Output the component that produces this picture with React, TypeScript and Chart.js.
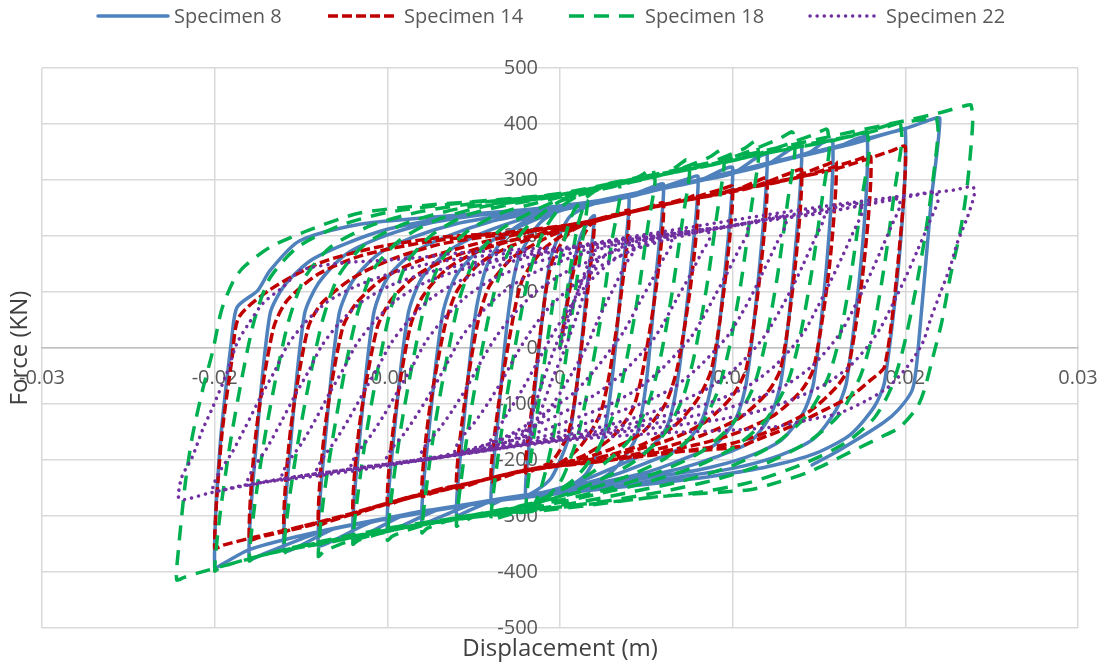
import { useEffect, useRef } from "react";
import { Chart, registerables } from "chart.js";

Chart.register(...registerables);

const xTickValues = [-0.03, -0.02, -0.01, 0, 0.01, 0.02, 0.03];
const yTickValues = [-500, -400, -300, -200, -100, 0, 100, 200, 300, 400, 500];
const seriesNames = ["Specimen 8", "Specimen 14", "Specimen 18", "Specimen 22"];
const xTitle = "Displacement (m)";
const yTitle = "Force (KN)";

// [displacement (m), force (kN)]
const specimen8: number[][] = [
  [0,0],[0.0006,120],[0.0012,200],[0.0018,232],[0.002,236],
  [0.0016,118],[0.001,-60],[0.0005,-160],[-0.0005,-232],[-0.0014,-255],[-0.002,-262],
  [-0.0016,-120],[-0.001,60],[-0.0005,165],[0.0005,232],[0.0015,252],[0.0025,262],[0.0034,266],[0.004,268],
  [0.0036,130],[0.003,-60],[0.0025,-160],[0.0015,-225],[0,-255],[-0.002,-264],[-0.0034,-272],[-0.004,-278],
  [-0.0036,-130],[-0.003,60],[-0.0024,160],[-0.0012,222],[0,246],[0.002,260],[0.004,272],[0.0054,288],[0.006,292],
  [0.0056,140],[0.005,-60],[0.0044,-160],[0.0032,-215],[0.002,-240],[0,-256],[-0.002,-265],[-0.004,-274],[-0.0054,-292],[-0.006,-298],
  [-0.0056,-140],[-0.0049,60],[-0.0042,150],[-0.003,205],[-0.0015,235],[0,250],[0.002,262],[0.004,274],[0.006,288],[0.0074,302],[0.008,306],
  [0.0076,150],[0.0068,-60],[0.0062,-140],[0.005,-185],[0.003,-215],[0.001,-240],[-0.001,-258],[-0.003,-268],[-0.005,-278],[-0.0072,-305],[-0.008,-312],
  [-0.0076,-150],[-0.0068,60],[-0.006,130],[-0.0045,180],[-0.0025,215],[0,245],[0.002,258],[0.004,270],[0.006,285],[0.008,298],[0.0094,318],[0.01,322],
  [0.0096,150],[0.0088,-60],[0.0082,-130],[0.007,-178],[0.005,-205],[0.003,-228],[0.001,-245],[-0.001,-258],[-0.003,-267],[-0.005,-278],[-0.007,-288],[-0.0092,-318],[-0.01,-325],
  [-0.0096,-150],[-0.0088,60],[-0.008,125],[-0.0065,172],[-0.0045,205],[-0.002,232],[0,246],[0.002,258],[0.004,270],[0.006,285],[0.008,298],[0.01,312],[0.0114,340],[0.012,345],
  [0.0116,160],[0.0108,-60],[0.0102,-125],[0.009,-172],[0.007,-200],[0.005,-222],[0.003,-236],[0.001,-248],[-0.001,-258],[-0.003,-267],[-0.005,-277],[-0.007,-287],[-0.009,-298],[-0.0112,-332],[-0.012,-340],
  [-0.0116,-160],[-0.0108,60],[-0.01,125],[-0.0085,170],[-0.0065,200],[-0.004,226],[-0.002,238],[0,248],[0.002,258],[0.004,270],[0.006,285],[0.008,298],[0.01,312],[0.012,328],[0.0134,356],[0.014,360],
  [0.0136,165],[0.0128,-60],[0.0122,-120],[0.011,-168],[0.009,-195],[0.007,-215],[0.005,-228],[0.003,-240],[0.001,-250],[-0.001,-260],[-0.003,-269],[-0.005,-279],[-0.007,-289],[-0.009,-300],[-0.011,-312],[-0.0132,-345],[-0.014,-352],
  [-0.0136,-165],[-0.0128,60],[-0.012,120],[-0.0105,168],[-0.0085,198],[-0.006,222],[-0.003,238],[0,250],[0.003,266],[0.006,286],[0.009,305],[0.012,328],[0.0145,350],[0.0152,366],[0.0158,370],
  [0.0155,170],[0.0147,-60],[0.0141,-115],[0.0128,-165],[0.0108,-195],[0.008,-218],[0.005,-232],[0.002,-245],[-0.001,-258],[-0.004,-272],[-0.007,-288],[-0.01,-305],[-0.013,-322],[-0.0152,-355],[-0.016,-362],
  [-0.0156,-170],[-0.0148,60],[-0.014,115],[-0.0125,165],[-0.0105,196],[-0.008,220],[-0.005,236],[-0.002,246],[0.001,256],[0.004,272],[0.007,292],[0.01,312],[0.013,336],[0.016,358],[0.0172,374],[0.0178,376],
  [0.0175,175],[0.0166,-60],[0.016,-110],[0.0147,-162],[0.0127,-192],[0.01,-215],[0.007,-230],[0.004,-243],[0.001,-255],[-0.002,-265],[-0.005,-278],[-0.008,-292],[-0.011,-310],[-0.014,-330],[-0.0172,-368],[-0.018,-376],
  [-0.0176,-175],[-0.0168,60],[-0.016,110],[-0.0145,155],[-0.0125,185],[-0.01,212],[-0.007,230],[-0.004,240],[-0.001,250],[0.002,262],[0.005,280],[0.008,298],[0.011,320],[0.014,343],[0.017,365],[0.0193,386],[0.02,390],
  [0.0197,180],[0.0188,-60],[0.0182,-105],[0.0168,-155],[0.0148,-188],[0.012,-212],[0.009,-228],[0.006,-240],[0.003,-250],[0,-260],[-0.003,-270],[-0.006,-283],[-0.009,-298],[-0.012,-315],[-0.015,-335],[-0.018,-360],[-0.0195,-385],[-0.02,-392],
  [-0.0197,-180],[-0.019,20],[-0.0187,73],[-0.0175,103],[-0.0168,138],[-0.0151,191],[-0.0116,221],[-0.008,232],[-0.004,242],[0,253],[0.004,272],[0.008,300],[0.012,330],[0.016,360],[0.02,392],[0.0215,408],[0.022,410],
  [0.0215,264],[0.0207,-16],[0.0204,-75],[0.0196,-110],[0.0187,-134],[0.0162,-182],[0.0146,-209],
];

const specimen14: number[][] = [
  [0,0],[0.0006,110],[0.0012,190],[0.0017,218],[0.002,225],
  [0.0016,100],[0.001,-60],[0.0005,-150],[-0.0004,-200],[-0.0014,-216],[-0.002,-222],
  [-0.0016,-100],[-0.001,60],[-0.0005,150],[0.0005,205],[0.002,228],[0.0034,240],[0.004,245],
  [0.0036,110],[0.0029,-40],[0.0023,-120],[0.0012,-175],[0,-205],[-0.002,-218],[-0.0034,-232],[-0.004,-238],
  [-0.0036,-110],[-0.0028,40],[-0.0022,120],[-0.001,175],[0.0005,208],[0.002,228],[0.004,242],[0.0054,254],[0.006,258],
  [0.0056,115],[0.0048,-40],[0.0042,-110],[0.003,-160],[0.0015,-190],[0,-208],[-0.002,-218],[-0.004,-232],[-0.0054,-246],[-0.006,-250],
  [-0.0056,-115],[-0.0048,40],[-0.0041,110],[-0.0028,160],[-0.0012,190],[0,208],[0.002,226],[0.004,242],[0.006,256],[0.0074,268],[0.008,272],
  [0.0076,120],[0.0068,-35],[0.0061,-100],[0.0048,-150],[0.003,-180],[0.001,-200],[-0.001,-214],[-0.003,-225],[-0.005,-240],[-0.0074,-259],[-0.008,-264],
  [-0.0076,-120],[-0.0067,35],[-0.006,100],[-0.0047,150],[-0.003,180],[-0.001,202],[0.001,218],[0.003,234],[0.005,250],[0.007,262],[0.0094,284],[0.01,288],
  [0.0096,130],[0.0088,-35],[0.008,-90],[0.0066,-140],[0.0048,-172],[0.003,-190],[0.001,-204],[-0.001,-214],[-0.003,-225],[-0.005,-240],[-0.007,-252],[-0.0094,-274],[-0.01,-279],
  [-0.0096,-130],[-0.0087,35],[-0.008,90],[-0.0066,140],[-0.0048,172],[-0.003,190],[-0.001,205],[0.001,220],[0.004,242],[0.007,262],[0.01,280],[0.0114,298],[0.012,303],
  [0.0116,135],[0.0108,-35],[0.01,-85],[0.0085,-130],[0.0065,-162],[0.004,-185],[0.001,-204],[-0.002,-218],[-0.005,-240],[-0.008,-260],[-0.0114,-292],[-0.012,-297],
  [-0.0116,-135],[-0.0106,35],[-0.0098,85],[-0.0083,130],[-0.0063,162],[-0.004,184],[-0.001,204],[0.002,226],[0.005,250],[0.008,268],[0.011,286],[0.0134,313],[0.014,318],
  [0.0136,140],[0.0128,-35],[0.012,-80],[0.0104,-125],[0.0083,-155],[0.006,-178],[0.003,-198],[0,-210],[-0.003,-225],[-0.006,-248],[-0.009,-268],[-0.0134,-310],[-0.014,-315],
  [-0.0136,-140],[-0.0126,35],[-0.0118,80],[-0.0102,125],[-0.008,158],[-0.005,185],[-0.002,206],[0.001,222],[0.004,243],[0.007,262],[0.01,281],[0.013,299],[0.0154,327],[0.016,332],
  [0.0156,145],[0.0147,-35],[0.014,-75],[0.0124,-120],[0.0102,-152],[0.008,-172],[0.005,-190],[0.002,-204],[-0.001,-214],[-0.004,-232],[-0.007,-255],[-0.01,-277],[-0.013,-304],[-0.0154,-322],[-0.016,-327],
  [-0.0156,-145],[-0.0146,35],[-0.0138,80],[-0.012,125],[-0.0098,158],[-0.007,185],[-0.004,200],[-0.001,212],[0.002,228],[0.005,250],[0.008,268],[0.011,287],[0.014,306],[0.0172,336],[0.018,341],
  [0.0176,150],[0.0167,-35],[0.016,-70],[0.0145,-112],[0.0124,-145],[0.01,-170],[0.007,-185],[0.004,-196],[0.001,-206],[-0.002,-218],[-0.005,-240],[-0.008,-262],[-0.011,-286],[-0.014,-313],[-0.0174,-338],[-0.018,-342],
  [-0.0176,-150],[-0.0166,35],[-0.0158,85],[-0.014,132],[-0.0115,165],[-0.008,188],[-0.005,200],[-0.002,210],[0.001,222],[0.004,242],[0.007,262],[0.01,282],[0.013,300],[0.016,320],[0.0192,352],[0.02,359],
  [0.0196,160],[0.0188,-33],[0.018,-57],[0.0168,-87],[0.0153,-111],[0.0133,-141],[0.0114,-164],[0.0104,-176],[0.008,-183],[0.006,-187],[0.003,-200],[0,-210],[-0.003,-225],[-0.006,-248],[-0.009,-270],[-0.012,-295],[-0.015,-319],[-0.018,-340],[-0.0195,-352],[-0.02,-357],
  [-0.0196,-160],[-0.019,-20],[-0.0186,55],[-0.0168,104],[-0.0139,152],[-0.0106,180],[-0.0068,198],[-0.004,204],
];

const specimen18: number[][] = [
  [0,0],[0.0005,120],[0.001,215],[0.0014,255],[0.0016,262],
  [0.0012,170],[0.0006,40],[0,-90],[-0.0006,-190],[-0.0012,-260],[-0.0017,-290],[-0.002,-298],
  [-0.0017,-200],[-0.0012,-90],[-0.0006,40],[0,160],[0.0008,245],[0.002,280],[0.003,290],[0.0034,292],
  [0.0035,275],[0.003,190],[0.0024,60],[0.0017,-60],[0.001,-160],[0,-240],[-0.0015,-285],[-0.003,-298],[-0.0037,-305],[-0.004,-308],
  [-0.0037,-220],[-0.0032,-110],[-0.0025,20],[-0.0018,130],[-0.001,205],[0,250],[0.0015,280],[0.003,295],[0.0045,305],[0.0053,320],[0.0054,318],
  [0.0055,295],[0.0051,220],[0.0045,90],[0.0038,-30],[0.0032,-110],[0.0022,-180],[0.0008,-235],[-0.001,-270],[-0.003,-292],[-0.005,-302],[-0.0057,-312],[-0.006,-318],
  [-0.0057,-230],[-0.0052,-120],[-0.0045,0],[-0.0038,100],[-0.003,170],[-0.0018,220],[0,262],[0.002,280],[0.004,295],[0.006,310],[0.0068,325],[0.0073,336],[0.0074,335],
  [0.0075,310],[0.0071,230],[0.0065,100],[0.0058,-20],[0.0051,-100],[0.004,-165],[0.0022,-215],[0,-255],[-0.002,-280],[-0.004,-294],[-0.006,-304],[-0.0077,-322],[-0.008,-330],
  [-0.0077,-240],[-0.0072,-130],[-0.0065,-10],[-0.0058,90],[-0.0049,160],[-0.0035,210],[-0.0015,245],[0,265],[0.003,290],[0.006,310],[0.0086,340],[0.0093,354],[0.0094,352],
  [0.0095,325],[0.0091,240],[0.0085,110],[0.0078,-10],[0.0071,-90],[0.006,-155],[0.0042,-205],[0.002,-240],[0,-265],[-0.003,-288],[-0.006,-303],[-0.0085,-322],[-0.0097,-336],[-0.01,-343],
  [-0.0097,-250],[-0.0092,-140],[-0.0085,-20],[-0.0078,80],[-0.0069,155],[-0.0055,205],[-0.0035,240],[-0.001,262],[0.002,284],[0.005,304],[0.008,324],[0.0106,355],[0.0113,370],[0.0114,368],
  [0.0115,340],[0.0111,255],[0.0105,120],[0.0098,0],[0.0091,-80],[0.008,-145],[0.0062,-195],[0.004,-228],[0.001,-258],[-0.002,-280],[-0.005,-298],[-0.008,-314],[-0.0105,-332],[-0.0117,-344],[-0.012,-350],
  [-0.0117,-260],[-0.0112,-150],[-0.0105,-30],[-0.0098,70],[-0.0089,150],[-0.0075,200],[-0.0055,236],[-0.003,256],[0,272],[0.003,292],[0.006,312],[0.009,330],[0.0126,372],[0.0134,386],[0.0135,384],
  [0.0136,350],[0.0132,265],[0.0126,130],[0.0119,10],[0.0112,-70],[0.01,-135],[0.0082,-185],[0.006,-218],[0.003,-250],[0,-272],[-0.003,-290],[-0.006,-304],[-0.009,-320],[-0.0125,-348],[-0.0137,-364],[-0.014,-372],
  [-0.0137,-270],[-0.0131,-150],[-0.0124,-30],[-0.0117,65],[-0.0108,140],[-0.0093,192],[-0.0072,228],[-0.0045,252],[-0.001,268],[0.003,292],[0.007,316],[0.011,342],[0.0146,380],[0.0154,391],[0.0155,389],
  [0.0156,355],[0.0152,270],[0.0146,140],[0.0139,20],[0.0132,-60],[0.012,-125],[0.0102,-175],[0.008,-210],[0.005,-240],[0.002,-262],[-0.001,-282],[-0.004,-297],[-0.007,-310],[-0.01,-325],[-0.0135,-348],[-0.0157,-360],[-0.016,-366],
  [-0.0157,-275],[-0.0151,-155],[-0.0144,-40],[-0.0137,55],[-0.0128,130],[-0.0113,185],[-0.009,222],[-0.006,248],[-0.002,265],[0.002,284],[0.006,310],[0.01,336],[0.014,362],[0.0168,378],[0.0176,384],[0.0178,382],
  [0.0179,350],[0.0175,270],[0.0169,140],[0.0162,20],[0.0155,-55],[0.0143,-120],[0.0125,-170],[0.01,-210],[0.007,-238],[0.004,-258],[0.001,-276],[-0.002,-290],[-0.005,-302],[-0.008,-316],[-0.011,-332],[-0.014,-350],[-0.0165,-365],[-0.0177,-374],[-0.018,-380],
  [-0.0177,-285],[-0.0171,-160],[-0.0164,-45],[-0.0157,50],[-0.0148,125],[-0.0133,180],[-0.011,218],[-0.008,244],[-0.004,262],[0,274],[0.004,298],[0.008,322],[0.012,348],[0.016,372],[0.0188,396],[0.0196,406],[0.0197,405],
  [0.0198,370],[0.0194,285],[0.0188,150],[0.0181,25],[0.0174,-50],[0.0162,-118],[0.0145,-165],[0.012,-205],[0.009,-235],[0.006,-256],[0.003,-272],[0,-284],[-0.003,-295],[-0.006,-306],[-0.009,-320],[-0.012,-336],[-0.015,-354],[-0.018,-376],[-0.0197,-392],[-0.02,-398],
  [-0.0197,-300],[-0.0191,-170],[-0.0184,-50],[-0.0177,50],[-0.0168,125],[-0.0152,180],[-0.0128,218],[-0.01,242],[-0.006,258],[-0.002,268],[0.002,284],[0.006,310],[0.01,336],[0.014,360],[0.018,386],[0.0197,402],[0.021,408],[0.0217,413],[0.0218,412],
  [0.0219,385],[0.0216,300],[0.0212,211],[0.0206,104],[0.0199,2],[0.0192,-70],[0.0182,-125],[0.0165,-170],[0.014,-208],[0.011,-240],[0.008,-258],[0.005,-268],[0.002,-278],[-0.001,-288],[-0.004,-298],[-0.007,-308],[-0.01,-322],[-0.013,-340],[-0.016,-360],[-0.019,-385],[-0.021,-402],[-0.0218,-410],[-0.0222,-414],
  [-0.0221,-361],[-0.0217,-241],[-0.0213,-159],[-0.0207,-75],[-0.0201,-4],[-0.0196,68],[-0.0189,121],[-0.0183,145],[-0.0168,180],[-0.0145,211],[-0.0116,241],[-0.0077,255],[-0.004,264],[0,276],[0.0058,312],[0.0112,348],[0.016,380],[0.0197,404],[0.022,420],[0.0235,433],[0.0238,434],
  [0.0239,402],[0.0236,294],[0.0232,211],[0.0226,127],[0.0221,45],[0.0216,-16],[0.0211,-75],[0.0207,-105],[0.0197,-141],[0.0186,-159],[0.0168,-186],[0.0155,-206],[0.0143,-223],[0.0127,-239],[0.011,-253],[0.0058,-265],[0,-287],[-0.0058,-304],
];

const specimen22: number[][] = [
  [0,0],[0.0006,60],[0.0012,115],[0.0017,155],[0.002,168],
  [0.0021,158],[0.0017,125],[0.001,60],[0.0003,0],[-0.0005,-60],[-0.0012,-120],[-0.0017,-150],[-0.002,-165],
  [-0.0021,-158],[-0.0017,-125],[-0.001,-60],[-0.0003,0],[0.0005,60],[0.0013,120],[0.002,150],[0.003,172],[0.0041,185],
  [0.0043,175],[0.0038,150],[0.003,100],[0.0022,50],[0.0015,0],[0.0007,-45],[-0.0003,-95],[-0.0013,-135],[-0.0025,-160],[-0.0035,-172],[-0.004,-178],
  [-0.0041,-170],[-0.0037,-150],[-0.003,-115],[-0.0022,-75],[-0.0013,-25],[-0.0005,20],[0.0005,70],[0.0016,115],[0.003,155],[0.0045,180],[0.0055,192],[0.0063,198],
  [0.0065,187],[0.006,160],[0.0053,120],[0.0045,75],[0.0037,30],[0.003,0],[0.002,-40],[0.0008,-80],[-0.0008,-115],[-0.0025,-148],[-0.004,-170],[-0.0052,-183],[-0.006,-190],
  [-0.0061,-182],[-0.0057,-160],[-0.005,-135],[-0.0042,-100],[-0.0033,-55],[-0.0025,-10],[-0.0017,30],[-0.0007,70],[0.0005,105],[0.002,140],[0.004,172],[0.006,192],[0.0078,205],[0.0085,210],
  [0.0087,198],[0.0082,170],[0.0075,128],[0.0068,90],[0.0061,50],[0.0054,15],[0.0047,-10],[0.0036,-45],[0.0022,-80],[0.0005,-110],[-0.0015,-140],[-0.0035,-165],[-0.0055,-183],[-0.0072,-195],[-0.008,-200],
  [-0.0081,-192],[-0.0077,-170],[-0.007,-145],[-0.0062,-110],[-0.0053,-65],[-0.0045,-20],[-0.0037,20],[-0.0027,60],[-0.0014,100],[0.0003,135],[0.0025,165],[0.005,190],[0.0075,205],[0.0098,217],[0.0107,222],
  [0.0109,208],[0.0104,178],[0.0097,135],[0.009,95],[0.0083,55],[0.0076,20],[0.0069,-5],[0.0058,-40],[0.0044,-75],[0.0026,-105],[0.0005,-130],[-0.002,-158],[-0.0045,-180],[-0.007,-196],[-0.0092,-205],[-0.01,-208],
  [-0.0101,-200],[-0.0097,-178],[-0.009,-152],[-0.0082,-115],[-0.0073,-70],[-0.0065,-25],[-0.0058,15],[-0.0048,55],[-0.0035,95],[-0.0018,130],[0.0005,160],[0.003,182],[0.006,198],[0.009,212],[0.0118,230],[0.0129,236],
  [0.0131,222],[0.0126,190],[0.0119,145],[0.0112,100],[0.0105,60],[0.0098,25],[0.0091,0],[0.008,-35],[0.0066,-70],[0.0048,-98],[0.0026,-122],[0,-150],[-0.003,-172],[-0.006,-190],[-0.009,-204],[-0.0112,-212],[-0.012,-216],
  [-0.0121,-208],[-0.0117,-186],[-0.011,-158],[-0.0102,-120],[-0.0093,-72],[-0.0085,-30],[-0.0078,10],[-0.0068,50],[-0.0055,90],[-0.0038,125],[-0.0015,152],[0.001,172],[0.004,190],[0.007,205],[0.01,218],[0.0138,240],[0.0151,247],
  [0.0153,232],[0.0148,198],[0.0141,150],[0.0134,105],[0.0127,65],[0.012,28],[0.0113,0],[0.0102,-35],[0.0088,-68],[0.007,-95],[0.005,-118],[0.0025,-140],[0,-158],[-0.003,-175],[-0.006,-190],[-0.009,-203],[-0.012,-215],[-0.0132,-222],[-0.014,-226],
  [-0.0141,-218],[-0.0137,-195],[-0.013,-165],[-0.0122,-125],[-0.0113,-75],[-0.0105,-32],[-0.0098,8],[-0.0088,48],[-0.0075,88],[-0.0058,120],[-0.0035,148],[-0.001,168],[0.002,184],[0.005,198],[0.008,210],[0.011,224],[0.0155,248],[0.0173,258],
  [0.0175,243],[0.017,208],[0.0163,160],[0.0156,115],[0.0149,72],[0.0142,32],[0.0135,3],[0.0124,-33],[0.011,-66],[0.0092,-92],[0.0072,-112],[0.0048,-130],[0.002,-150],[-0.001,-166],[-0.004,-182],[-0.007,-196],[-0.01,-208],[-0.013,-220],[-0.0152,-230],[-0.016,-234],
  [-0.0161,-226],[-0.0157,-202],[-0.015,-172],[-0.0142,-130],[-0.0133,-78],[-0.0125,-35],[-0.0118,6],[-0.0108,46],[-0.0095,85],[-0.0078,117],[-0.0055,142],[-0.003,160],[0,176],[0.003,190],[0.006,202],[0.009,214],[0.012,228],[0.015,240],[0.0185,262],[0.0195,270],
  [0.0197,255],[0.0192,218],[0.0185,168],[0.0178,120],[0.0171,76],[0.0164,35],[0.0157,5],[0.0146,-32],[0.0132,-64],[0.0114,-90],[0.0094,-110],[0.007,-126],[0.004,-143],[0.001,-160],[-0.002,-172],[-0.005,-186],[-0.008,-200],[-0.011,-212],[-0.014,-224],[-0.0172,-240],[-0.018,-245],
  [-0.0181,-237],[-0.0177,-212],[-0.017,-180],[-0.0162,-135],[-0.0153,-82],[-0.0145,-38],[-0.0138,4],[-0.0128,44],[-0.0115,82],[-0.0098,112],[-0.0075,136],[-0.005,152],[-0.002,166],[0.001,182],[0.004,196],[0.007,208],[0.01,218],[0.013,232],[0.016,246],[0.0205,272],[0.0217,279],
  [0.0219,264],[0.0214,225],[0.0207,174],[0.02,125],[0.0193,80],[0.0186,38],[0.0179,6],[0.0168,-32],[0.0154,-64],[0.0136,-90],[0.0116,-112],[0.0092,-128],[0.0062,-140],[0.003,-152],[0,-164],[-0.003,-176],[-0.006,-190],[-0.009,-203],[-0.012,-216],[-0.015,-228],[-0.0185,-246],[-0.02,-256],
  [-0.0201,-248],[-0.0197,-220],[-0.019,-187],[-0.0182,-140],[-0.0173,-85],[-0.0165,-40],[-0.0158,4],[-0.0148,44],[-0.0135,82],[-0.0117,112],[-0.0095,136],[-0.007,154],[-0.004,166],[0,178],[0.004,198],[0.008,218],[0.012,238],[0.016,256],[0.02,272],[0.0228,282],[0.0239,288],
  [0.024,275],[0.0236,234],[0.023,187],[0.0226,145],[0.0221,104],[0.0215,55],[0.021,9],[0.0201,-34],[0.019,-70],[0.0178,-93],[0.0162,-116],[0.0143,-129],[0.0124,-141],[0.0104,-146],[0.0058,-152],[0,-166],[-0.0058,-190],[-0.0116,-218],[-0.0145,-230],[-0.0174,-241],[-0.0203,-259],[-0.0218,-271],[-0.0221,-266],
  [-0.0219,-230],[-0.0213,-195],[-0.0207,-146],[-0.0201,-105],[-0.0193,-45],[-0.0187,9],[-0.018,45],[-0.0172,80],[-0.016,110],[-0.015,139],[-0.0126,152],[-0.01,157],[-0.0077,163],[-0.0058,170],[0,180],
];

const seriesData = [specimen8, specimen14, specimen18, specimen22];
const seriesColors = ["#4f81bd", "#c00000", "#00b050", "#7030a0"];
const seriesDash = [[], [10, 4], [15, 10], [0.1, 7]];
const seriesCaps: CanvasLineCap[] = ["round", "butt", "butt", "round"];
const seriesOrder = [3, 2, 1, 0];

const FONT = '"Open Sans", "Liberation Sans", sans-serif';

function fmtX(v: number) {
  if (Math.abs(v) < 1e-9) return "0";
  return v.toFixed(2);
}

const overlayPlugin = {
  id: "overlay",
  beforeDatasetsDraw(chart: any) {
    const { ctx, scales } = chart;
    const xs = scales.x;
    const ys = scales.y;
    ctx.save();
    ctx.fillStyle = "#595959";
    ctx.font = `20px ${FONT}`;
    const y0 = ys.getPixelForValue(0);
    const x0 = xs.getPixelForValue(0);
    ctx.textAlign = "center";
    ctx.textBaseline = "middle";
    xTickValues.forEach((v) => ctx.fillText(fmtX(v), xs.getPixelForValue(v), y0 + 30));
    ctx.textAlign = "right";
    yTickValues.forEach((v) => ctx.fillText(String(v), x0 - 22, ys.getPixelForValue(v)));
    ctx.restore();
  },
  afterDraw(chart: any) {
    const { ctx, chartArea } = chart;
    ctx.save();
    // axis titles
    ctx.fillStyle = "#404040";
    ctx.font = `24px ${FONT}`;
    ctx.textAlign = "center";
    ctx.textBaseline = "middle";
    ctx.fillText(xTitle, (chartArea.left + chartArea.right) / 2, 649);
    ctx.save();
    ctx.translate(20, (chartArea.top + chartArea.bottom) / 2);
    ctx.rotate(-Math.PI / 2);
    ctx.fillText(yTitle, 0, 0);
    ctx.restore();
    // legend
    const starts = [98, 328, 569, 810];
    const ly = 16;
    ctx.font = `20px ${FONT}`;
    ctx.textAlign = "left";
    seriesNames.forEach((name, i) => {
      const sx = starts[i];
      ctx.save();
      ctx.strokeStyle = seriesColors[i];
      ctx.lineWidth = 3.5;
      ctx.lineCap = seriesCaps[i];
      ctx.setLineDash(seriesDash[i]);
      ctx.beginPath();
      ctx.moveTo(sx, ly);
      ctx.lineTo(sx + 70, ly);
      ctx.stroke();
      ctx.restore();
      ctx.fillStyle = "#595959";
      ctx.fillText(name, sx + 76, ly + 1);
    });
    ctx.restore();
  },
};

export default function App() {
  const canvasRef = useRef<HTMLCanvasElement | null>(null);

  useEffect(() => {
    document.body.style.margin = "0";
    const canvas = canvasRef.current;
    if (!canvas) return;
    const chart = new Chart(canvas, {
      type: "scatter",
      data: {
        datasets: seriesData.map((pts, i) => ({
          label: seriesNames[i],
          data: pts.map(([x, y]) => ({ x, y })),
          showLine: true,
          borderColor: seriesColors[i],
          backgroundColor: seriesColors[i],
          borderWidth: 3.5,
          borderDash: seriesDash[i],
          borderCapStyle: seriesCaps[i],
          borderJoinStyle: "round",
          pointRadius: 0,
          pointHoverRadius: 0,
          tension: 0.25,
          fill: false,
          order: seriesOrder[i],
        })),
      },
      options: {
        responsive: false,
        animation: false,
        devicePixelRatio: 1,
        events: [],
        layout: { padding: { left: 42, right: 27, top: 68, bottom: 36 } },
        plugins: { legend: { display: false }, tooltip: { enabled: false }, title: { display: false } },
        scales: {
          x: {
            type: "linear",
            min: -0.03,
            max: 0.03,
            position: { y: 0 },
            afterBuildTicks: (s: any) => {
              s.ticks = xTickValues.map((v) => ({ value: v }));
            },
            ticks: { display: false },
            grid: { color: "#d9d9d9", lineWidth: 1.5, drawTicks: false },
            border: { display: true, color: "#bfbfbf", width: 1.5 },
          },
          y: {
            type: "linear",
            min: -500,
            max: 500,
            position: { x: 0 },
            afterBuildTicks: (s: any) => {
              s.ticks = yTickValues.map((v) => ({ value: v }));
            },
            ticks: { display: false },
            grid: { color: "#d9d9d9", lineWidth: 1.5, drawTicks: false },
            border: { display: false },
          },
        },
      },
      plugins: [overlayPlugin],
    } as any);
    return () => chart.destroy();
  }, []);

  return (
    <div style={{ position: "fixed", left: 0, top: 0, width: 1105, height: 664, background: "#ffffff" }}>
      <canvas ref={canvasRef} width={1105} height={664} style={{ display: "block", width: 1105, height: 664 }} />
    </div>
  );
}
